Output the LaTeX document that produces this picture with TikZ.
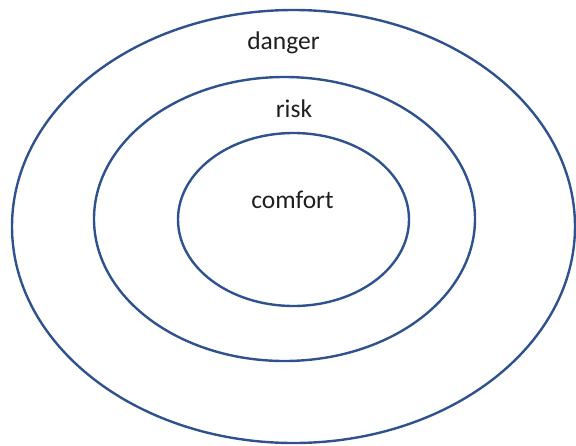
\documentclass[tikz,border=0pt]{standalone}
\usepackage{fontspec}
\setmainfont{Carlito}
\usepackage{xcolor}
\usetikzlibrary{positioning,shapes.geometric}
\definecolor{ringblue}{HTML}{2F528F}

\begin{document}
\begin{tikzpicture}[
  x=1pt, y=-1pt,
  ring/.style={draw=ringblue, line width=2.4pt, ellipse, inner sep=0pt},
  zone/.style={font=\fontsize{25.5}{30}\selectfont, text=black!88, inner sep=0pt}
]
\useasboundingbox (0,0) rectangle (576,445);
% --- rings ---
\node[ring, minimum width=563pt, minimum height=433pt] (danger) at (293.5,226.5) {};
\node[ring, minimum width=381pt, minimum height=284pt] (risk) at (284.5,219) {};
\node[ring, minimum width=231pt, minimum height=173pt] (comfort) at (293.5,219.5) {};
% --- labels ---
\node[zone] (dangerlbl) at (283.5,43) {danger};
\node[zone] (risklbl) at (294,109) {risk};
\node[zone] (comfortlbl) at (292.5,200) {comfort};
\end{tikzpicture}
\end{document}
